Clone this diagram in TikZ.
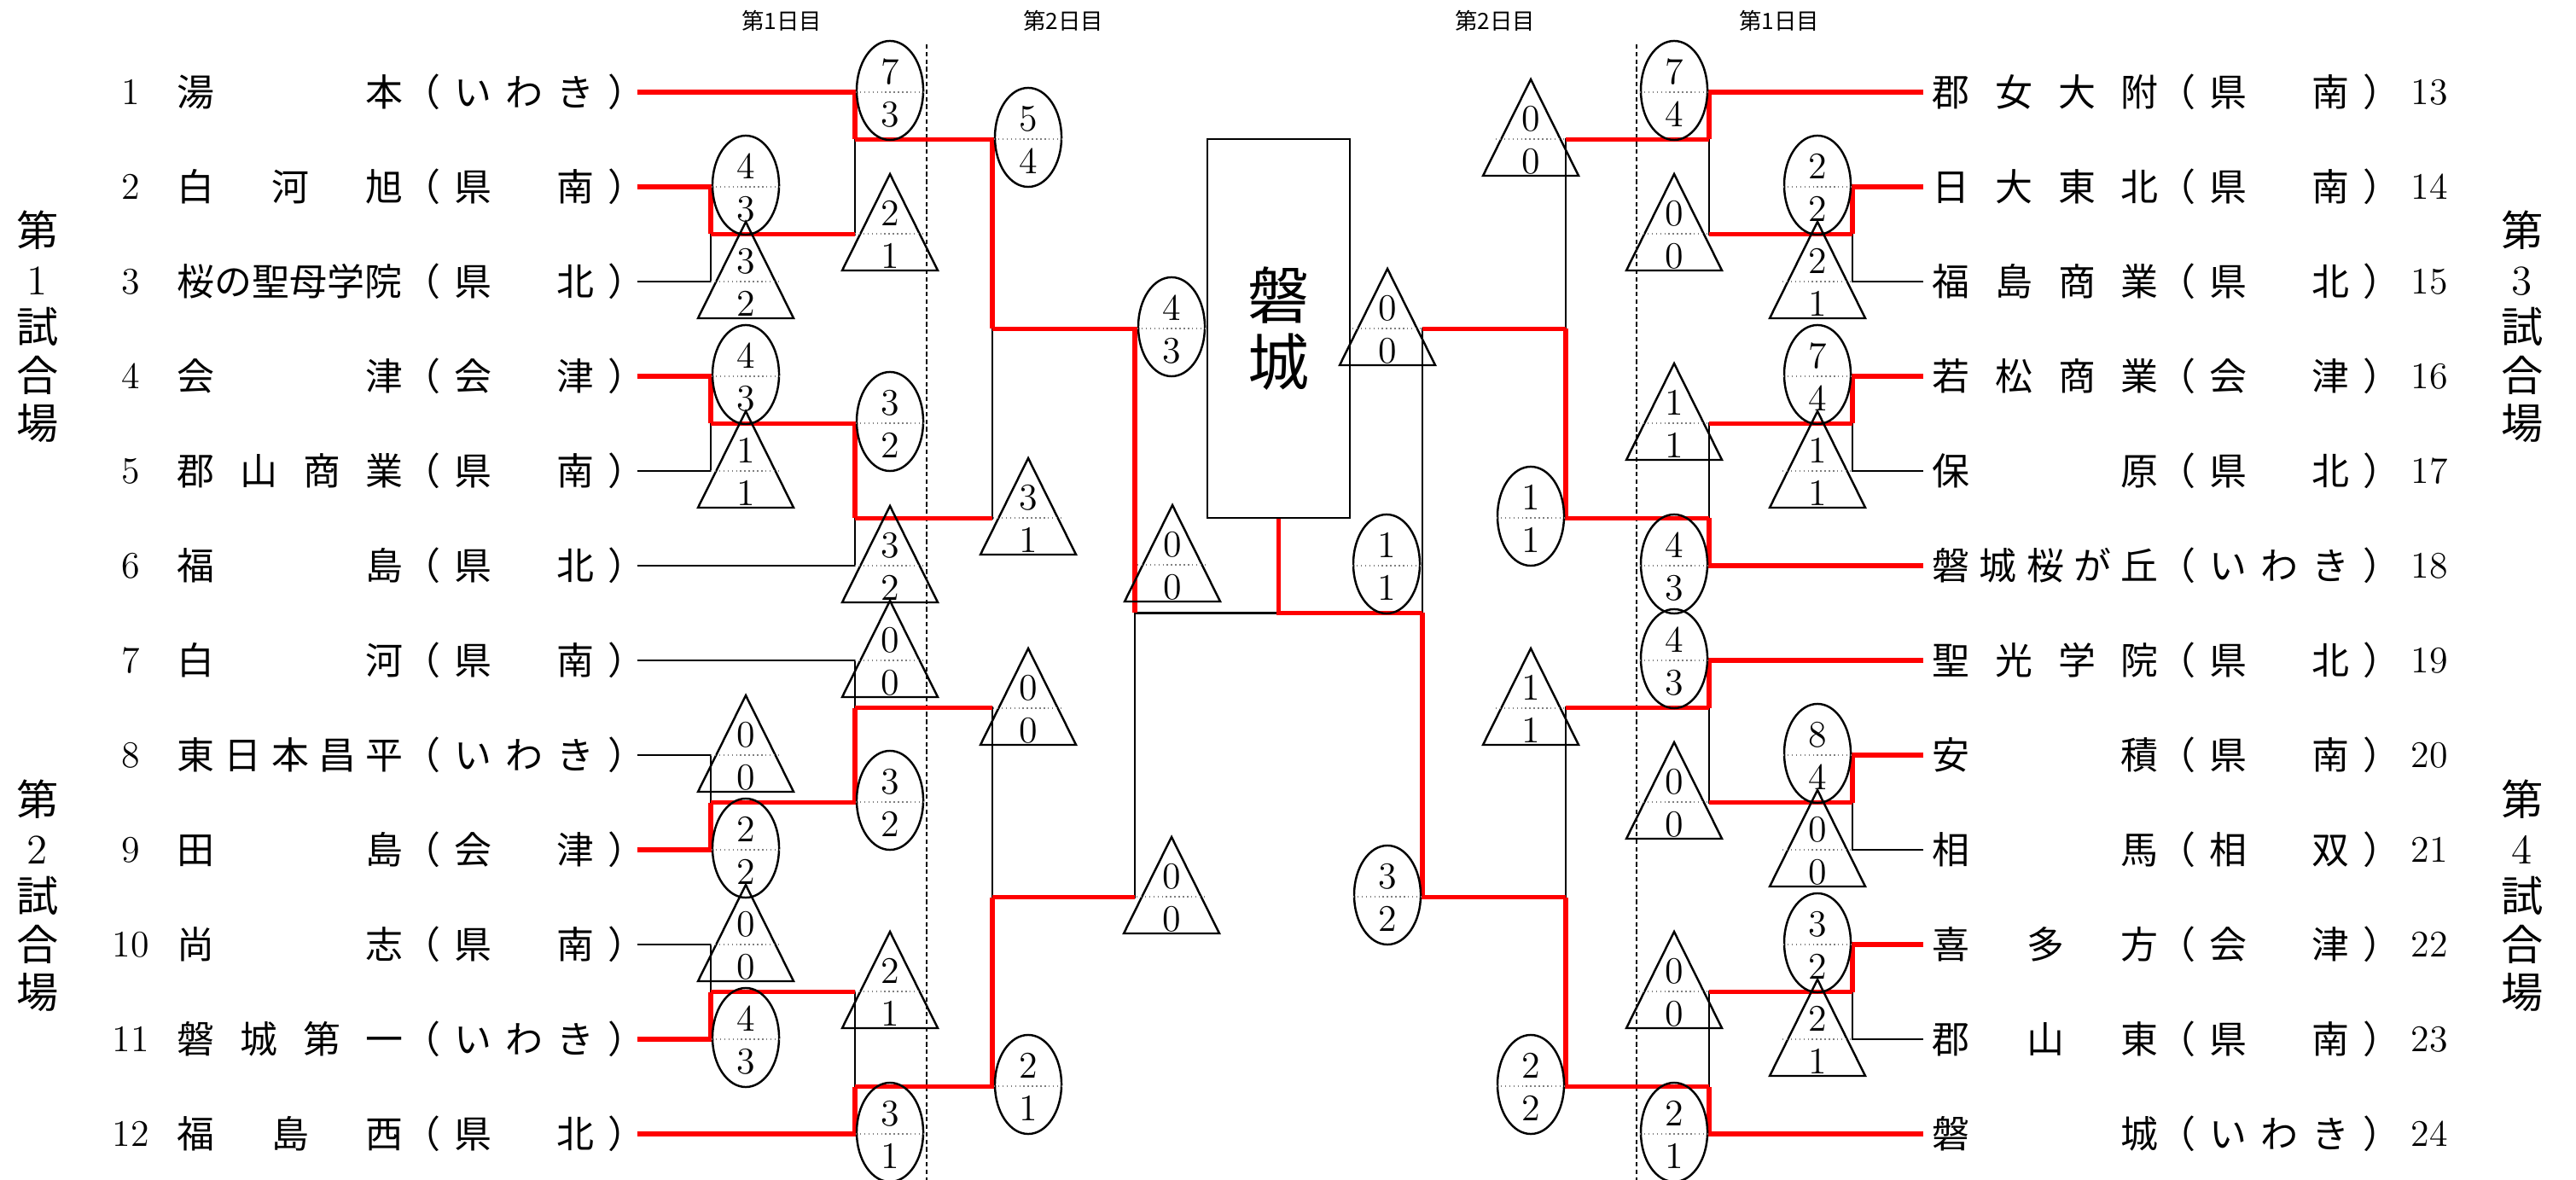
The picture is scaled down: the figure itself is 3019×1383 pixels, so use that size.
\documentclass[tikz,border=0pt]{standalone}
\usepackage{fontspec}
\usepackage{tikz}
\newfontfamily\jp{Noto Sans CJK JP}
\usetikzlibrary{shapes.geometric,positioning}
\tikzset{
  school/.style={inner sep=0pt, anchor=west, font=\jp\fontsize{12.5}{15}\selectfont},
  digit/.style={inner sep=0pt, font=\fontsize{12.5}{15}\selectfont},
  win/.style={red, line width=0.055cm},
  lose/.style={black, line width=0.025cm},
}
\newcommand{\team}[2]{\makebox[2.65cm][s]{#1}\makebox[2.83cm][s]{（ #2 ）}}

\begin{document}
\begin{tikzpicture}[
    x=0.01cm, y=-0.01cm,
    venue/.style={align=center, inner sep=0pt, font=\jp\fontsize{14}{16.1}\selectfont},
    day/.style={inner sep=0pt, font=\jp\fontsize{7.5}{9}\selectfont},
    champbox/.style={draw, line width=0.7pt, minimum width=1.67cm, minimum height=4.44cm,
                     align=center, font=\jp\fontsize{20.5}{22.2}\selectfont},
    winmark/.style={ellipse, draw, line width=0.7pt, minimum width=0.78cm, minimum height=1.16cm, inner sep=0pt},
    losemark/.style={draw, line width=0.7pt},
    divider/.style={gray, densely dotted, line width=0.4pt},
    dayline/.style={dash pattern=on 1.5pt off 1pt, line width=0.5pt}
  ]
  \useasboundingbox (0,0) rectangle (3019,1383);

  % Day headings
  \node[day] (d1l) at (916,24) {第1日目};
  \node[day] (d2l) at (1246,24) {第2日目};
  \node[day] (d2r) at (1752,24) {第2日目};
  \node[day] (d1r) at (2085,24) {第1日目};

  % Venues
  \node[venue] (v1) at (44,383) {第\\{\rmfamily 1}\\試\\合\\場};
  \node[venue] (v2) at (44,1050) {第\\{\rmfamily 2}\\試\\合\\場};
  \node[venue] (v3) at (2956,383) {第\\{\rmfamily 3}\\試\\合\\場};
  \node[venue] (v4) at (2956,1050) {第\\{\rmfamily 4}\\試\\合\\場};

  % Left schools
  \node[school] (t1) at (207,108) {\team{湯 本}{い わ き}};
  \node[school] (t2) at (207,219) {\team{白 河 旭}{県 \hphantom{県} 南}};
  \node[school] (t3) at (207,330) {\team{桜の聖母学院}{県 \hphantom{県} 北}};
  \node[school] (t4) at (207,441) {\team{会 津}{会 \hphantom{県} 津}};
  \node[school] (t5) at (207,552) {\team{郡 山 商 業}{県 \hphantom{県} 南}};
  \node[school] (t6) at (207,663) {\team{福 島}{県 \hphantom{県} 北}};
  \node[school] (t7) at (207,774) {\team{白 河}{県 \hphantom{県} 南}};
  \node[school] (t8) at (207,885) {\team{東 日 本 昌 平}{い わ き}};
  \node[school] (t9) at (207,996) {\team{田 島}{会 \hphantom{県} 津}};
  \node[school] (t10) at (207,1107) {\team{尚 志}{県 \hphantom{県} 南}};
  \node[school] (t11) at (207,1218) {\team{磐 城 第 一}{い わ き}};
  \node[school] (t12) at (207,1329) {\team{福 島 西}{県 \hphantom{県} 北}};

  % Right schools
  \node[school] (t13) at (2264,108) {\team{郡 女 大 附}{県 \hphantom{県} 南}};
  \node[school] (t14) at (2264,219) {\team{日 大 東 北}{県 \hphantom{県} 南}};
  \node[school] (t15) at (2264,330) {\team{福 島 商 業}{県 \hphantom{県} 北}};
  \node[school] (t16) at (2264,441) {\team{若 松 商 業}{会 \hphantom{県} 津}};
  \node[school] (t17) at (2264,552) {\team{保 原}{県 \hphantom{県} 北}};
  \node[school] (t18) at (2264,663) {\team{磐 城 桜 が 丘}{い わ き}};
  \node[school] (t19) at (2264,774) {\team{聖 光 学 院}{県 \hphantom{県} 北}};
  \node[school] (t20) at (2264,885) {\team{安 積}{県 \hphantom{県} 南}};
  \node[school] (t21) at (2264,996) {\team{相 馬}{相 \hphantom{県} 双}};
  \node[school] (t22) at (2264,1107) {\team{喜 多 方}{会 \hphantom{県} 津}};
  \node[school] (t23) at (2264,1218) {\team{郡 山 東}{県 \hphantom{県} 南}};
  \node[school] (t24) at (2264,1329) {\team{磐 城}{い わ き}};

  % Entry numbers
  \foreach \i in {1,...,12} \node[digit] (n\i) at (153,108+111*\i-111) {\i};
  \foreach \i in {13,...,24} \node[digit] (n\i) at (2847,108+111*\i-1443) {\i};

  % Champion
  \node[champbox] (champ) at (1498.5,385) {磐\\城};

  % Match points, left
  \coordinate (l1) at (833,274.5);
  \coordinate (l2) at (1002,163.5);
  \coordinate (l3) at (833,496.5);
  \coordinate (l4) at (1002,607.5);
  \coordinate (l5) at (833,940.5);
  \coordinate (l6) at (1002,829.5);
  \coordinate (l7) at (833,1162.5);
  \coordinate (l8) at (1002,1273.5);
  \coordinate (l9) at (1163,385.5);
  \coordinate (l10) at (1163,1051.5);
  \coordinate (l11) at (1330,718.5);
  % Match points, right
  \coordinate (r1) at (2171,274.5);
  \coordinate (r2) at (2003,163.5);
  \coordinate (r3) at (2171,496.5);
  \coordinate (r4) at (2003,607.5);
  \coordinate (r5) at (2171,940.5);
  \coordinate (r6) at (2003,829.5);
  \coordinate (r7) at (2171,1162.5);
  \coordinate (r8) at (2003,1273.5);
  \coordinate (r9) at (1835,385.5);
  \coordinate (r10) at (1835,1051.5);
  \coordinate (r11) at (1667,718.5);

  % Day borders
  \coordinate (dl0) at (1086,52);
  \coordinate (dl1) at (1086,1383);
  \coordinate (dr0) at (1918,52);
  \coordinate (dr1) at (1918,1383);
  \draw[dayline] (dl0) -- (dl1);
  \draw[dayline] (dr0) -- (dr1);

  % Lost (black)
  \draw[lose] ([xshift=-1mm]t3.east) -| (l1);
  \draw[lose] (l1) -| (l2);
  \draw[lose] ([xshift=-1mm]t5.east) -| (l3);
  \draw[lose] ([xshift=-1mm]t6.east) -| (l4);
  \draw[lose] ([xshift=-1mm]t8.east) -| (l5);
  \draw[lose] ([xshift=-1mm]t7.east) -| (l6);
  \draw[lose] ([xshift=-1mm]t10.east) -| (l7);
  \draw[lose] (l7) -| (l8);
  \draw[lose] (l4) -| (l9);
  \draw[lose] (l6) -| (l10);
  \draw[lose] (l10) -| (l11);
  \draw[lose] (l11) -- (l11 -| champ);
  \draw[lose] ([xshift=-1mm]t15.west) -| (r1);
  \draw[lose] (r1) -| (r2);
  \draw[lose] ([xshift=-1mm]t17.west) -| (r3);
  \draw[lose] (r3) -| (r4);
  \draw[lose] ([xshift=-1mm]t21.west) -| (r5);
  \draw[lose] (r5) -| (r6);
  \draw[lose] ([xshift=-1mm]t23.west) -| (r7);
  \draw[lose] (r7) -| (r8);
  \draw[lose] (r2) -| (r9);
  \draw[lose] (r6) -| (r10);
  \draw[lose] (r9) -| (r11);

  % Won (red)
  \draw[win] ([xshift=-1mm]t2.east) -| (l1);
  \draw[win] ([xshift=-1mm]t1.east) -| (l2);
  \draw[win] (l1) -- (l1 -| l2);
  \draw[win] ([xshift=-1mm]t4.east) -| (l3);
  \draw[win] (l3) -| (l4);
  \draw[win] ([xshift=-1mm]t9.east) -| (l5);
  \draw[win] (l5) -| (l6);
  \draw[win] ([xshift=-1mm]t11.east) -| (l7);
  \draw[win] ([xshift=-1mm]t12.east) -| (l8);
  \draw[win] (l7) -- (l7 -| l8);
  \draw[win] (l2) -| (l9);
  \draw[win] (l4) -- (l4 -| l9);
  \draw[win] (l8) -| (l10);
  \draw[win] (l6) -- (l6 -| l10);
  \draw[win] (l9) -| (l11);
  \draw[win] (l10) -- (l10 -| l11);
  \draw[win] ([xshift=-1mm]t14.west) -| (r1);
  \draw[win] ([xshift=-1mm]t13.west) -| (r2);
  \draw[win] (r1) -- (r1 -| r2);
  \draw[win] ([xshift=-1mm]t16.west) -| (r3);
  \draw[win] (r3) -- (r3 -| r4);
  \draw[win] ([xshift=-1mm]t18.west) -| (r4);
  \draw[win] ([xshift=-1mm]t20.west) -| (r5);
  \draw[win] ([xshift=-1mm]t19.west) -| (r6);
  \draw[win] (r5) -- (r5 -| r6);
  \draw[win] ([xshift=-1mm]t22.west) -| (r7);
  \draw[win] (r7) -- (r7 -| r8);
  \draw[win] ([xshift=-1mm]t24.west) -| (r8);
  \draw[win] (r2) -- (r2 -| r9);
  \draw[win] (r4) -| (r9);
  \draw[win] (r6) -- (r6 -| r10);
  \draw[win] (r8) -| (r10);
  \draw[win] (r9) -- (r9 -| r11);
  \draw[win] (r10) -| (r11);
  \draw[win] (r11) -| (champ);

  % Winners' scores
  \foreach \x/\y/\a/\b [count=\k] in {874/219/4/3, 1043/108/7/3, 874/441/4/3, 1043/496/3/2,
      874/996/2/2, 1043/940/3/2, 874/1218/4/3, 1043/1329/3/1, 1205/163/5/4, 1205/1273/2/1,
      1373/385/4/3, 2130/219/2/2, 1962/108/7/4, 2130/441/7/4, 1962/663/4/3, 2130/885/8/4,
      1962/774/4/3, 2130/1107/3/2, 1962/1329/2/1, 1794/607/1/1, 1794/1273/2/2, 1626/1051/3/2,
      1625/663/1/1}{
    \node[winmark] (w\k) at (\x,\y-2) {};
    \draw[divider] (\x-40,\y) -- (\x+40,\y);
    \node[digit] (wa\k) at (\x,\y-24) {\a};
    \node[digit] (wb\k) at (\x,\y+26) {\b};
  }

  % Losers' scores
  \foreach \x/\y/\a/\b [count=\k] in {874/330/3/2, 1043/274/2/1, 874/552/1/1, 1043/663/3/2,
      874/885/0/0, 1043/774/0/0, 874/1107/0/0, 1043/1162/2/1, 1205/607/3/1, 1205/830/0/0,
      1373/1051/0/0, 1374/662/0/0, 2130/330/2/1, 1962/274/0/0, 2130/552/1/1, 1962/496/1/1,
      2130/996/0/0, 1962/940/0/0, 2130/1218/2/1, 1962/1162/0/0, 1794/163/0/0, 1794/830/1/1,
      1626/385/0/0}{
    \draw[losemark] (\x,\y-70) -- (\x+56,\y+43) -- (\x-56,\y+43) -- cycle;
    \draw[divider] (\x-41,\y) -- (\x+41,\y);
    \node[digit] (la\k) at (\x,\y-24) {\a};
    \node[digit] (lb\k) at (\x,\y+26) {\b};
  }

\end{tikzpicture}
\end{document}
